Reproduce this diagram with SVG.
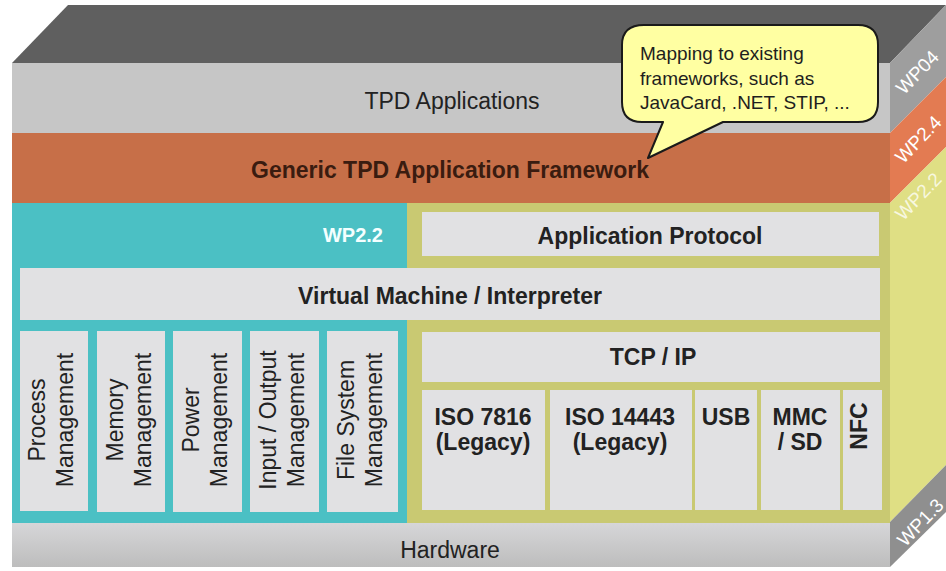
<svg xmlns="http://www.w3.org/2000/svg" width="946" height="571" viewBox="0 0 946 571">
  <defs>
    <linearGradient id="hwGrad" x1="0" y1="0" x2="0" y2="1">
      <stop offset="0" stop-color="#d6d6d8"/>
      <stop offset="1" stop-color="#bdbdbd"/>
    </linearGradient>
    <style>
      .t { font-family: "Liberation Sans", Arial, Helvetica, sans-serif; font-size: 23px; fill: #222; text-anchor: middle; }
      .b { font-weight: bold; }
      .box { fill: #e1e1e3; }
      .side { font-family: "Liberation Sans", Arial, Helvetica, sans-serif; font-size: 19px; fill: #ffffff; text-anchor: middle; }
      .note { font-family: "Liberation Sans", Arial, Helvetica, sans-serif; font-size: 19px; fill: #1e1e1e; }
    </style>
  </defs>

  <rect width="946" height="571" fill="#ffffff"/>

  <!-- block faces: top and right side -->
  <g id="block">
    <polygon points="12,63 68,5 946,5 890,63" fill="#5f5f5f"/>
    <polygon points="890,63 946,5 946,77 890,133" fill="#9e9e9e"/>
    <polygon points="890,133 946,77 946,147 890,203" fill="#e37b52"/>
    <polygon points="890,203 946,147 946,465 890,522" fill="#dfdf84"/>
    <polygon points="890,522 946,465 946,512 890,567" fill="#8f8f8f"/>
  </g>

  <!-- work package labels on the side face -->
  <g id="side-labels">
    <text class="side" transform="translate(917,72) rotate(-46)" y="7">WP04</text>
    <text class="side" transform="translate(918,139) rotate(-46)" y="7">WP2.4</text>
    <text class="side" transform="translate(918,196) rotate(-46)" y="7" fill-opacity="0.75">WP2.2</text>
    <text class="side" transform="translate(920,522) rotate(-46)" y="7">WP1.3</text>
  </g>

  <g id="tpd-applications">
    <rect x="12" y="63" width="878" height="70" fill="#c6c6c6"/>
    <text class="t" x="452" y="109">TPD Applications</text>
  </g>

  <g id="application-framework">
    <rect x="12" y="133" width="878" height="70" fill="#c76f48"/>
    <text class="t b" x="450" y="178" fill="#3a1c10" style="fill:#3a1c10">Generic TPD Application Framework</text>
  </g>

  <!-- middle layer backgrounds -->
  <g id="wp22-area">
    <rect x="407" y="203" width="483" height="320" fill="#c9c972"/>
    <rect x="12" y="203" width="395" height="320" fill="#4bc0c4"/>
    <text class="t b" x="383" y="242" style="font-size:20px; fill:#f4ffff; text-anchor:end">WP2.2</text>
  </g>

  <g id="application-protocol">
    <rect class="box" x="422" y="212" width="457" height="44"/>
    <text class="t b" x="650" y="244">Application Protocol</text>
  </g>

  <g id="virtual-machine">
    <rect class="box" x="20" y="268" width="860" height="52"/>
    <text class="t b" x="450" y="304">Virtual Machine / Interpreter</text>
  </g>

  <g id="process-management">
    <rect class="box" x="20" y="331" width="68" height="180"/>
    <text class="t" transform="translate(45,420) rotate(-90)">Process</text>
    <text class="t" transform="translate(73,420) rotate(-90)">Management</text>
  </g>

  <g id="memory-management">
    <rect class="box" x="97" y="331" width="68" height="181"/>
    <text class="t" transform="translate(123,420) rotate(-90)">Memory</text>
    <text class="t" transform="translate(151,420) rotate(-90)">Management</text>
  </g>

  <g id="power-management">
    <rect class="box" x="173" y="331" width="69" height="181"/>
    <text class="t" transform="translate(199,420) rotate(-90)">Power</text>
    <text class="t" transform="translate(227,420) rotate(-90)">Management</text>
  </g>

  <g id="io-management">
    <rect class="box" x="250" y="331" width="69" height="181"/>
    <text class="t" transform="translate(276,420) rotate(-90)">Input / Output</text>
    <text class="t" transform="translate(304,420) rotate(-90)">Management</text>
  </g>

  <g id="file-system-management">
    <rect class="box" x="327" y="331" width="71" height="181"/>
    <text class="t" transform="translate(354,420) rotate(-90)">File System</text>
    <text class="t" transform="translate(382,420) rotate(-90)">Management</text>
  </g>

  <g id="tcp-ip">
    <rect class="box" x="422" y="332" width="458" height="50"/>
    <text class="t b" x="653" y="365">TCP / IP</text>
  </g>

  <g id="iso-7816">
    <rect class="box" x="422" y="390" width="123" height="120"/>
    <text class="t b" x="483" y="425">ISO 7816</text>
    <text class="t b" x="483" y="450">(Legacy)</text>
  </g>

  <g id="iso-14443">
    <rect class="box" x="550" y="390" width="142" height="120"/>
    <text class="t b" x="620" y="425">ISO 14443</text>
    <text class="t b" x="620" y="450">(Legacy)</text>
  </g>

  <g id="usb">
    <rect class="box" x="695" y="390" width="62" height="120"/>
    <text class="t b" x="726" y="425">USB</text>
  </g>

  <g id="mmc-sd">
    <rect class="box" x="761" y="390" width="79" height="120"/>
    <text class="t b" x="800" y="425">MMC</text>
    <text class="t b" x="800" y="450">/ SD</text>
  </g>

  <g id="nfc">
    <rect class="box" x="843" y="390" width="39" height="120"/>
    <text class="t b" transform="translate(867,426) rotate(-90)">NFC</text>
  </g>

  <g id="hardware">
    <rect x="12" y="523" width="878" height="44" fill="url(#hwGrad)"/>
    <text class="t" x="450" y="558">Hardware</text>
  </g>

  <!-- speech bubble pointing at the framework layer -->
  <g id="mapping-note">
    <path d="M 644,25 H 858 Q 878,25 878,45 V 102 Q 878,122 858,122 H 723 L 648,158 L 663,122 H 642 Q 622,122 622,102 V 45 Q 622,25 644,25 Z"
          fill="#ffffa2" stroke="#1a1a1a" stroke-width="2" stroke-linejoin="round"/>
    <text class="note" x="640" y="60">Mapping to existing</text>
    <text class="note" x="640" y="85">frameworks, such as</text>
    <text class="note" x="640" y="109">JavaCard, .NET, STIP, ...</text>
  </g>
</svg>
